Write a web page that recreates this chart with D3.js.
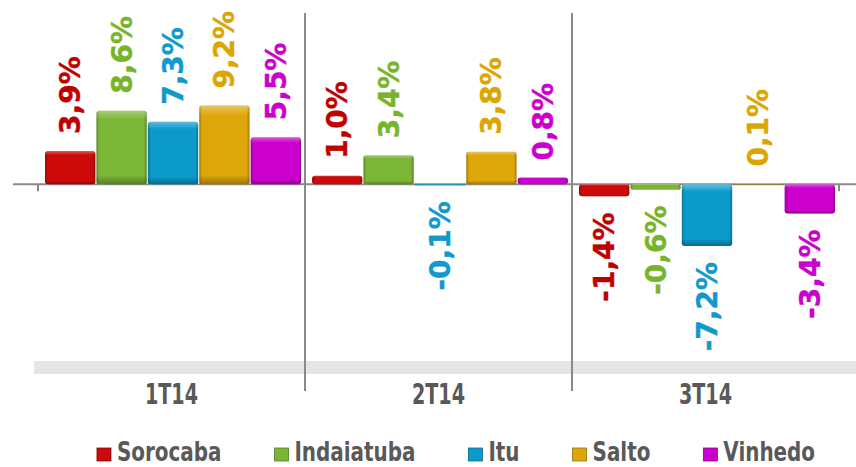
<!DOCTYPE html>
<html lang="en">
	<head>
		<meta charset="utf-8">
		<title>variação trimestral</title>
		<script type="text/javascript" src="https://d3js.org/d3.v7.min.js"></script>
		<style type="text/css">
            body{
                margin:0;
                padding:0;
                background:#fff;
            }
            .val{
                font-family:"DejaVu Sans", Verdana, sans-serif;
                font-weight:bold;
                font-size:28px;
                stroke-width:0.4px;
            }
            .cat, .leg{
                font-family:"DejaVu Sans Condensed","DejaVu Sans", sans-serif;
                font-weight:bold;
                fill:#595959;
            }
            .cat{ font-size:28px; }
            .leg{ font-size:27px; }
		</style>
	</head>
	<body>
        <div id="chart"></div>
		<script type="text/javascript">
            // data
            var quarters = ["1T14","2T14","3T14"]
            var cities = ["Sorocaba","Indaiatuba","Itu","Salto","Vinhedo"]
            var sorocaba = [3.9, 1.0, -1.4]
            var indaiatuba = [8.6, 3.4, -0.6]
            var itu = [7.3, -0.1, -7.2]
            var salto = [9.2, 3.8, 0.1]
            var vinhedo = [5.5, 0.8, -3.4]
            var seriesValues = [sorocaba, indaiatuba, itu, salto, vinhedo]
            var barColors = ["#cc0a0a","#7bb636","#0c9acb","#dda70a","#cc00cc"]
            var labelColors = ["#c00000","#78b42a","#1199cc","#dca500","#cc00cc"]

            var w = 856
            var h = 467

            var svg = d3.select("#chart").append("svg")
                .attr("width",w).attr("height",h)

            var x0 = d3.scaleBand().domain(quarters).range([38,839])
            var x1 = d3.scaleBand().domain(cities).range([7,x0.bandwidth()-4]).paddingInner(0.02)
            var y = d3.scaleLinear().domain([-24,20]).range([390,13])

            // gradients for the bevelled bars
            var defs = svg.append("defs")
            barColors.forEach(function(c,i){
                var g = defs.append("linearGradient").attr("id","g"+i)
                    .attr("x1","0").attr("x2","1").attr("y1","0").attr("y2","0")
                var dark = d3.color(c).darker(0.8)
                g.append("stop").attr("offset","0%").attr("stop-color",dark)
                g.append("stop").attr("offset","6%").attr("stop-color",c)
                g.append("stop").attr("offset","94%").attr("stop-color",c)
                g.append("stop").attr("offset","100%").attr("stop-color",dark)
                var gv = defs.append("linearGradient").attr("id","v"+i)
                    .attr("x1","0").attr("x2","0").attr("y1","0").attr("y2","1")
                gv.append("stop").attr("offset","0%").attr("stop-color","#fff").attr("stop-opacity",0.35)
                gv.append("stop").attr("offset","12%").attr("stop-color","#fff").attr("stop-opacity",0)
                gv.append("stop").attr("offset","88%").attr("stop-color","#000").attr("stop-opacity",0)
                gv.append("stop").attr("offset","100%").attr("stop-color","#000").attr("stop-opacity",0.3)
            })

            // grey band under the plot
            svg.append("rect")
                .attr("x",34).attr("y",361).attr("width",w-34).attr("height",13)
                .attr("fill","#e5e5e5")

            // zero axis
            svg.append("line")
                .attr("x1",13).attr("x2",w).attr("y1",y(0)).attr("y2",y(0))
                .attr("stroke","#8a8a8a").attr("stroke-width",2)

            var bounds = [x0.range()[0]].concat(quarters.map(function(q){ return x0(q)+x0.bandwidth() }))
            bounds.forEach(function(b,i){
                var inner = i>0 && i<bounds.length-1
                svg.append("line")
                    .attr("x1",b).attr("x2",b)
                    .attr("y1",inner ? y(20) : y(0))
                    .attr("y2",inner ? y(-24)+1 : y(0)+7)
                    .attr("stroke","#8a8a8a").attr("stroke-width",2)
            })

            // bars
            var groups = svg.selectAll(".grp").data(quarters).enter().append("g")
                .attr("class","grp")
                .attr("transform",function(d){ return "translate("+x0(d)+",0)" })

            groups.each(function(q,qi){
                var g = d3.select(this)
                cities.forEach(function(c,ci){
                    var v = seriesValues[ci][qi]
                    var top = Math.min(y(v),y(0))
                    var hh = Math.max(Math.abs(y(v)-y(0)),1)
                    g.append("rect")
                        .attr("x",x1(c)).attr("y",top)
                        .attr("width",x1.bandwidth()).attr("height",hh)
                        .attr("rx",Math.min(3,hh/2))
                        .attr("fill","url(#g"+ci+")")
                    g.append("rect")
                        .attr("x",x1(c)).attr("y",top)
                        .attr("width",x1.bandwidth()).attr("height",hh)
                        .attr("rx",Math.min(3,hh/2))
                        .attr("fill","url(#v"+ci+")")
                    var cx = x1(c)+x1.bandwidth()/2
                    var ly = v>=0 ? y(v)-17 : y(v)+16
                    g.append("text")
                        .attr("class","val")
                        .attr("transform","translate("+cx+","+ly+") rotate(-90)")
                        .attr("dy","0.36em")
                        .attr("text-anchor",v>=0 ? "start" : "end")
                        .attr("fill",labelColors[ci])
                        .attr("stroke",labelColors[ci])
                        .text(d3.format(".1f")(v).replace(".",",").replace("−","-")+"%")
                })
            })

            // category labels
            var xAxis = d3.axisBottom(x0).tickSize(0).tickPadding(0)
            var ax = svg.append("g").attr("transform","translate(0,404)").call(xAxis)
            ax.select(".domain").remove()
            ax.selectAll("text")
                .attr("class","cat")
                .attr("dy",0).attr("y",0)
                .attr("font-size",null).attr("font-family",null)
                .each(function(){
                    var t = d3.select(this)
                    t.attr("textLength",this.getComputedTextLength()*0.76)
                     .attr("lengthAdjust","spacingAndGlyphs")
                })

            // legend
            var legend = svg.append("g")
            var lx = 0
            cities.forEach(function(c,ci){
                var it = legend.append("g")
                it.append("rect")
                    .attr("x",0).attr("y",-13).attr("width",14).attr("height",13)
                    .attr("fill","url(#g"+ci+")")
                    .attr("stroke",d3.color(barColors[ci]).darker(1)).attr("stroke-width",0.8)
                var t = it.append("text").attr("class","leg")
                    .attr("x",20).attr("y",0)
                    .text(c)
                var tl = t.node().getComputedTextLength()*0.82
                t.attr("textLength",tl).attr("lengthAdjust","spacingAndGlyphs")
                it.attr("transform","translate("+lx+",0)")
                lx += 20+tl+53
            })
            var total = lx-53
            legend.attr("transform","translate("+(456-total/2)+",461)")
		</script>
	</body>
</html>
